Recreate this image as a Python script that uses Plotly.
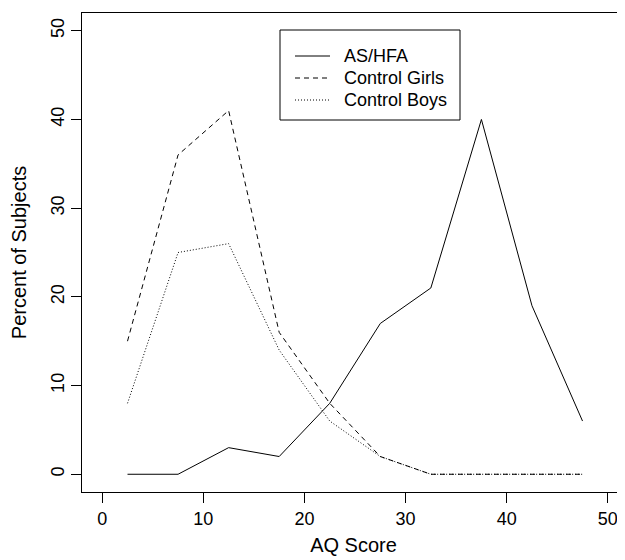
import plotly.graph_objects as go

aq_score = [2.5, 7.5, 12.5, 17.5, 22.5, 27.5, 32.5, 37.5, 42.5, 47.5]
as_hfa = [0, 0, 3, 2, 8, 17, 21, 40, 19, 6]
control_girls = [15, 36, 41, 16, 8, 2, 0, 0, 0, 0]
control_boys = [8, 25, 26, 14, 6, 2, 0, 0, 0, 0]
tick_vals = [0, 10, 20, 30, 40, 50]
series_names = ["AS/HFA", "Control Girls", "Control Boys"]
series_dash = ["solid", "5px,4px", "1px,2px"]

FONT = "Liberation Sans, Arial, sans-serif"

# page has an 8px body margin; figure sized so it fills the 625x560 window
W, H = 617, 552
ML, MR, MT, MB = 74, 0, 5, 68
PW, PH = W - ML - MR, H - MT - MB


def px_x(fx):
    return (fx - ML) / PW


def px_y(fy):
    return (H - MB - fy) / PH


fig = go.Figure()
for name, vals, dash in zip(series_names, [as_hfa, control_girls, control_boys], series_dash):
    fig.add_trace(go.Scatter(x=aq_score, y=vals, mode="lines", name=name,
                             line=dict(color="black", width=1, dash=dash),
                             showlegend=False))

# legend drawn manually (R style box)
shapes = [dict(type="rect", xref="paper", yref="paper",
               x0=px_x(272), x1=px_x(452), y0=px_y(112), y1=px_y(22),
               line=dict(color="black", width=1), fillcolor="white", layer="above")]
annotations = []
row_y = [48, 70, 92]
for name, dash, ry in zip(series_names, series_dash, row_y):
    shapes.append(dict(type="line", xref="paper", yref="paper",
                       x0=px_x(287), x1=px_x(322), y0=px_y(ry), y1=px_y(ry),
                       line=dict(color="black", width=1, dash=dash), layer="above"))
    annotations.append(dict(text=name, xref="paper", yref="paper",
                            x=px_x(334), y=px_y(ry), xanchor="left", yanchor="middle",
                            showarrow=False,
                            font=dict(family=FONT, size=18, color="black")))

fig.update_layout(
    width=W, height=H,
    margin=dict(l=ML, r=MR, t=MT, b=MB, autoexpand=False),
    paper_bgcolor="white", plot_bgcolor="white",
    font=dict(family=FONT, size=18, color="black"),
    showlegend=False,
    shapes=shapes, annotations=annotations,
    xaxis=dict(range=[-2, 51.7], tickvals=tick_vals, ticks="outside", ticklen=10,
               tickcolor="black", showgrid=False, zeroline=False,
               showline=True, linecolor="black", linewidth=1, mirror=True,
               automargin=False,
               tickfont=dict(family=FONT, size=18, color="black"),
               title=dict(text="AQ Score", font=dict(family=FONT, size=20, color="black"),
                          standoff=10)),
    yaxis=dict(range=[-2, 52], tickvals=tick_vals, ticks="outside", ticklen=10,
               tickcolor="black", showgrid=False, zeroline=False,
               showline=True, linecolor="black", linewidth=1, mirror=False,
               tickangle=-90, automargin=False,
               tickfont=dict(family=FONT, size=18, color="black"),
               title=dict(text="Percent of Subjects", font=dict(family=FONT, size=20, color="black"),
                          standoff=16)),
)

fig.write_html("out.html")
